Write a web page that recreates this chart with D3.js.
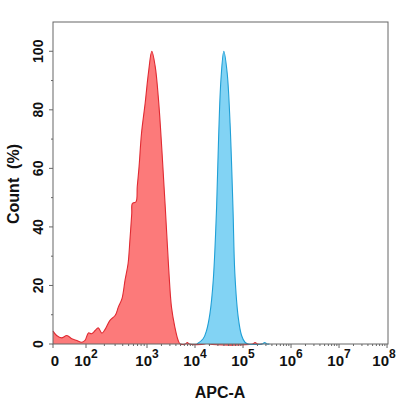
<!DOCTYPE html>
<html>
<head>
<meta charset="utf-8">
<script src="https://cdn.jsdelivr.net/npm/d3@7"></script>
<style>
  html, body { margin: 0; padding: 0; background: #fff; }
  svg { display: block; font-family: "Liberation Sans", Arial, sans-serif; }
</style>
</head>
<body>
<svg id="chart"></svg>
<script>
// x values are log10 of APC-A intensity (1 = the "0" position at the left edge)
const redX = [1.0, 1.11, 1.26, 1.42, 1.57, 1.72, 1.87, 1.97, 2.04, 2.09, 2.15, 2.20, 2.26, 2.31,
  2.39, 2.48, 2.53, 2.59, 2.64, 2.69, 2.72, 2.75, 2.76, 2.82, 2.84, 2.87, 2.91, 2.97, 3.03,
  3.10, 3.17, 3.24, 3.31, 3.38, 3.45, 3.51, 3.58, 3.65, 3.69,
  3.80, 3.84, 3.88, 4.20, 4.25, 4.30, 5.20, 5.25, 5.30, 5.40];
const redY = [4.4, 2.9, 2.1, 2.9, 1.8, 1.2, 0.6, 1.2, 3.8, 3.5, 4.6, 5.5, 3.7, 4.9,
  8.0, 9.8, 12.6, 15.5, 21.8, 27.5, 35.5, 44.6, 48, 48.6, 53.7, 60.6, 72, 82.3, 92.6,
  100, 94.9, 83.4, 66.3, 46.9, 26.3, 12.6, 5.8, 1.2, 0,
  0, 0.5, 0, 0, 0.5, 0, 0, 0.5, 0, 0];

const blueX = [4.04, 4.17, 4.24, 4.31, 4.38, 4.45, 4.49, 4.54, 4.60, 4.67, 4.73, 4.79,
  4.83, 4.90, 4.97, 5.04, 5.11, 5.40, 5.45, 5.50, 5.55];
const blueY = [0, 1.8, 4.6, 10.3, 21.8, 46.9, 69.7, 90.3, 100, 92.6, 75.5, 46.9,
  24.1, 9.2, 2.9, 0.6, 0, 0, 0.5, 0, 0];

const xTicks = [1, 2, 3, 4, 5, 6, 7, 8];
const xTickLabels = ["0", "2", "3", "4", "5", "6", "7", "8"];
const yTicks = [0, 20, 40, 60, 80, 100];

const width = 398, height = 400;
const margin = { left: 53, right: 388, top: 22, bottom: 344 };

const svg = d3.select("#chart").attr("width", width).attr("height", height);

// biexponential-style display: the low decades are drawn wider
const x = d3.scaleLinear()
  .domain([1, 2, 3, 8.02])
  .range([margin.left, 86, 147, margin.right]);

const y = d3.scaleLinear()
  .domain([0, 110])
  .range([margin.bottom, margin.top]);

const redData = redX.map((v, i) => [v, redY[i]]);
const blueData = blueX.map((v, i) => [v, blueY[i]]);

const area = d3.area()
  .x(d => x(d[0]))
  .y0(y(0))
  .y1(d => y(d[1]))
  .curve(d3.curveCatmullRom.alpha(0.5));

const line = d3.line()
  .x(d => x(d[0]))
  .y(d => y(d[1]))
  .curve(d3.curveCatmullRom.alpha(0.5));

// red histogram
svg.append("path").datum(redData)
  .attr("d", area)
  .attr("fill", "#fc7a7a");
svg.append("path").datum(redData)
  .attr("d", line)
  .attr("fill", "none")
  .attr("stroke", "#e02a32")
  .attr("stroke-width", 1.1);

// blue histogram
svg.append("path").datum(blueData)
  .attr("d", area)
  .attr("fill", "#82d3f4");
svg.append("path").datum(blueData)
  .attr("d", line)
  .attr("fill", "none")
  .attr("stroke", "#1f9fd6")
  .attr("stroke-width", 1.1);

// frame
svg.append("rect")
  .attr("x", margin.left).attr("y", margin.top)
  .attr("width", margin.right - margin.left).attr("height", margin.bottom - margin.top)
  .attr("fill", "none")
  .attr("stroke", "#666")
  .attr("stroke-width", 1);

// x ticks (major + minor)
const minor = [];
for (let d = 2; d < 8; d++) {
  for (let k = 2; k <= 9; k++) minor.push(d + Math.log10(k));
}
svg.selectAll(".xminor").data(minor).join("line")
  .attr("x1", d => x(d)).attr("x2", d => x(d))
  .attr("y1", margin.bottom).attr("y2", margin.bottom + 2)
  .attr("stroke", "#666");
svg.selectAll(".xmajor").data(xTicks).join("line")
  .attr("x1", d => x(d)).attr("x2", d => x(d))
  .attr("y1", margin.bottom).attr("y2", margin.bottom + 4)
  .attr("stroke", "#666");

const xl = svg.selectAll(".xlabel").data(xTicks).join("text")
  .attr("x", (d, i) => i === 0 ? x(d) + 2 : (i === 7 ? x(d) - 3 : x(d)))
  .attr("y", 366)
  .attr("text-anchor", "middle")
  .attr("font-size", 15)
  .attr("font-weight", "bold")
  .attr("fill", "#111");
xl.each(function(d, i) {
  const t = d3.select(this);
  if (i === 0) { t.text(xTickLabels[i]); return; }
  t.append("tspan").text("10");
  t.append("tspan").attr("dy", -8).attr("font-size", 12).text(xTickLabels[i]);
});

// y ticks
const yMinor = d3.range(10, 110, 20);
svg.selectAll(".yminor").data(yMinor).join("line")
  .attr("x1", margin.left - 2).attr("x2", margin.left)
  .attr("y1", d => y(d)).attr("y2", d => y(d))
  .attr("stroke", "#666");
svg.selectAll(".ymajor").data(yTicks).join("line")
  .attr("x1", margin.left - 4).attr("x2", margin.left)
  .attr("y1", d => y(d)).attr("y2", d => y(d))
  .attr("stroke", "#666");
svg.selectAll(".ylabel").data(yTicks).join("text")
  .attr("transform", d => `translate(43, ${y(d)}) rotate(-90)`)
  .attr("text-anchor", "middle")
  .attr("font-size", 14)
  .attr("font-weight", "bold")
  .attr("fill", "#111")
  .text(d => d);

// axis titles
svg.append("text")
  .attr("x", 220).attr("y", 398)
  .attr("text-anchor", "middle")
  .attr("font-size", 16)
  .attr("font-weight", "bold")
  .attr("fill", "#111")
  .text("APC-A");

svg.append("text")
  .attr("transform", "translate(19, 184) rotate(-90)")
  .attr("text-anchor", "middle")
  .attr("font-size", 16)
  .attr("font-weight", "bold")
  .attr("fill", "#111")
  .attr("xml:space", "preserve")
  .text("Count  (%)");
</script>
</body>
</html>
